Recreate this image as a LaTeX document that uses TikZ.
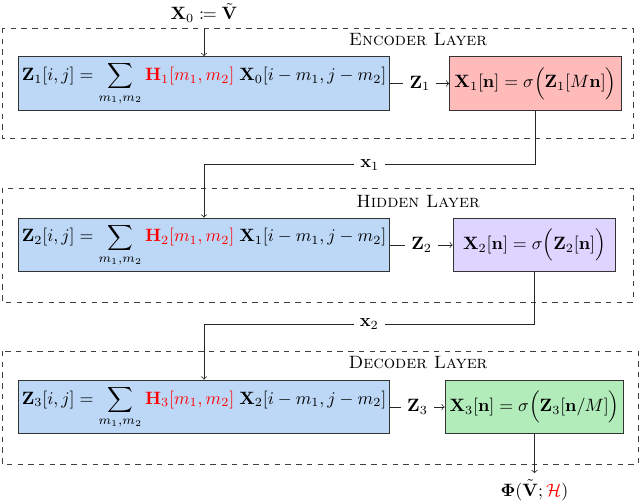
\documentclass[tikz,border=0pt]{standalone}
\usepackage{amsmath,mathtools,bm}
\usetikzlibrary{arrows,positioning,calc}

\definecolor{convblue}{RGB}{189,216,246}
\definecolor{actred}{RGB}{255,186,186}
\definecolor{actpurple}{RGB}{221,212,255}
\definecolor{actgreen}{RGB}{177,236,186}

\tikzset{
  convbox/.style={draw=black!80, line width=0.6pt, fill=convblue, minimum width=208pt, minimum height=30pt, inner sep=2pt},
  actbox/.style={draw=black!80, line width=0.6pt, minimum height=30pt, inner sep=2pt},
  layerbox/.style={draw=black!75, dashed},
  zlabel/.style={fill=white, inner sep=3.5pt},
}

\begin{document}
\begin{tikzpicture}[x=0.56pt,y=-0.56pt,draw=black!85]
\useasboundingbox (0,0) rectangle (640,501);

% layers
\draw[layerbox] (2,28) rectangle (633,138);
\draw[layerbox] (2,188) rectangle (633,302);
\draw[layerbox] (2,351) rectangle (638,464);
\node (enc) at (418,40) {\textsc{Encoder Layer}};
\node (hid) at (418,202) {\textsc{Hidden Layer}};
\node (dec) at (418,363) {\textsc{Decoder Layer}};

\node (in) at (204,13) {$\mathbf{X}_0 \coloneqq \tilde{\mathbf{V}}$};

\node[convbox] (conv1) at (204,83.5) {$\displaystyle \mathbf{Z}_1[i,j] = \sum_{m_1,m_2} \textcolor{red}{\mathbf{H}_1[m_1,m_2]}\;\mathbf{X}_0[i-m_1,j-m_2]$};
\node[actbox, fill=actred, minimum width=96pt] (act1) at (535.5,83.5) {$\mathbf{X}_1[\mathbf{n}] = \sigma\Big(\mathbf{Z}_1[M\mathbf{n}]\Big)$};

\node[convbox] (conv2) at (204,245) {$\displaystyle \mathbf{Z}_2[i,j] = \sum_{m_1,m_2} \textcolor{red}{\mathbf{H}_2[m_1,m_2]}\;\mathbf{X}_1[i-m_1,j-m_2]$};
\node[actbox, fill=actpurple, minimum width=91pt] (act2) at (534.5,245) {$\mathbf{X}_2[\mathbf{n}] = \sigma\Big(\mathbf{Z}_2[\mathbf{n}]\Big)$};

\node[convbox] (conv3) at (204,407) {$\displaystyle \mathbf{Z}_3[i,j] = \sum_{m_1,m_2} \textcolor{red}{\mathbf{H}_3[m_1,m_2]}\;\mathbf{X}_2[i-m_1,j-m_2]$};
\node[actbox, fill=actgreen, minimum width=100pt] (act3) at (534.5,407) {$\mathbf{X}_3[\mathbf{n}] = \sigma\Big(\mathbf{Z}_3[\mathbf{n}/M]\Big)$};

\node (out) at (534.5,490) {$\bm{\Phi}(\tilde{\mathbf{V}};\textcolor{red}{\mathcal{H}})$};

\draw[->] (in) -- (conv1);
\draw[->] (conv1) -- node[zlabel] {$\mathbf{Z}_1$} (act1);
\draw[->] (act1.south) -- ++(0,54) -| node[pos=0.25, zlabel] {$\mathbf{x}_1$} (conv2.north);
\draw[->] (conv2) -- node[zlabel] {$\mathbf{Z}_2$} (act2);
\draw[->] (act2.south) -- ++(0,52) -| node[pos=0.25, zlabel] {$\mathbf{x}_2$} (conv3.north);
\draw[->] (conv3) -- node[zlabel] {$\mathbf{Z}_3$} (act3);
\draw[->] (act3) -- (out);
\end{tikzpicture}
\end{document}
